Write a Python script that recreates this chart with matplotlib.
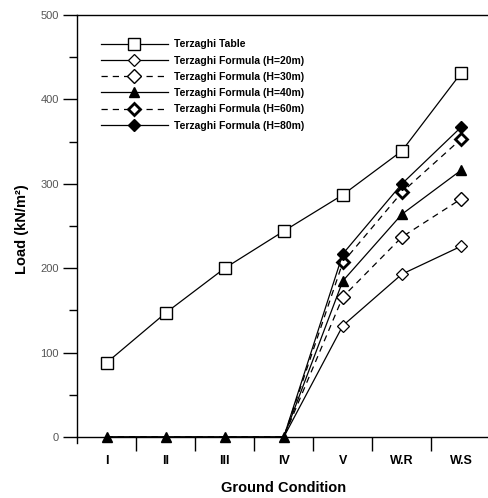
import matplotlib.pyplot as plt
import numpy as np
from matplotlib.ticker import MultipleLocator, FixedLocator

plt.rcParams['font.family'] = ['Liberation Sans', 'DejaVu Sans']

conditions = ['I', 'II', 'III', 'IV', 'V', 'W.R', 'W.S']
table = [88, 147, 200, 244, 287, 339, 431]
h20 = [0, 0, 0, 0, 132, 193, 226]
h30 = [0, 0, 0, 0, 166, 237, 282]
h40 = [0, 0, 0, 0, 185, 264, 316]
h60 = [0, 0, 0, 0, 207, 290, 353]
h80 = [0, 0, 0, 0, 217, 300, 367]

x = np.arange(len(conditions))
nz = slice(4, None)  # the zero points only show the triangle

fig = plt.figure(figsize=(4.88, 4.98), dpi=100)
ax = fig.add_axes([77 / 488, 55 / 498, 413.5 / 488, 428 / 498])

ax.plot(x, table, 'k-', lw=0.9, marker='s', ms=9, mfc='white', mec='k', mew=1.0,
        label='Terzaghi Table', zorder=3)
ax.plot(x, h20, 'k-', lw=0.9, marker='D', ms=6.5, mfc='white', mec='k', mew=0.9,
        markevery=nz, label='Terzaghi Formula (H=20m)', zorder=3)
ax.plot(x, h30, 'k--', lw=0.9, dashes=(5, 4), marker='D', ms=7, mfc='white', mec='k', mew=1.0,
        markevery=nz, label='Terzaghi Formula (H=30m)', zorder=3)
ax.plot(x, h60, 'k--', lw=0.9, dashes=(5, 4), marker='D', ms=6.5, mfc='white', mec='k', mew=2.0,
        markevery=nz, label='Terzaghi Formula (H=60m)', zorder=3)
ax.plot(x, h80, 'k-', lw=0.9, marker='D', ms=6.5, mfc='k', mec='k',
        markevery=nz, label='Terzaghi Formula (H=80m)', zorder=3)
ax.plot(x, h40, 'k-', lw=0.9, marker='^', ms=7.5, mfc='k', mec='k',
        label='Terzaghi Formula (H=40m)', zorder=4)

handles, labels = ax.get_legend_handles_labels()
order = [0, 1, 2, 5, 3, 4]
ax.legend([handles[i] for i in order], [labels[i] for i in order],
          loc='upper left', bbox_to_anchor=(0.035, 0.965), frameon=False,
          handlelength=6.4, handletextpad=0.6, labelspacing=0.6,
          prop={'weight': 'bold', 'size': 7.5}, markerfirst=True)

ax.set_xlim(-0.5, 6.5)
ax.set_ylim(-7, 500)

ax.spines['right'].set_visible(False)
ax.spines['bottom'].set_position(('data', 0))
for s in ax.spines.values():
    s.set_linewidth(1.0)

ax.xaxis.set_major_locator(FixedLocator(x))
ax.set_xticklabels(conditions, fontweight='bold', fontsize=9)
ax.xaxis.set_minor_locator(FixedLocator(x[:-1] + 0.5))
ax.tick_params(axis='x', which='major', length=0, pad=13)
ax.tick_params(axis='x', which='minor', length=10, width=1.0, direction='out')

ax.yaxis.set_major_locator(MultipleLocator(100))
ax.yaxis.set_minor_locator(MultipleLocator(50))
ax.tick_params(axis='y', which='major', length=10, width=1.0, labelsize=8,
               labelcolor='#555555', pad=3)
ax.tick_params(axis='y', which='minor', length=6, width=1.0)

ax.set_xlabel('Ground Condition', fontweight='bold', fontsize=10.5, labelpad=10)
ax.set_ylabel('Load (kN/m\u00b2)', fontweight='bold', fontsize=10.5, labelpad=8)

fig.savefig('out.png', dpi=100)
